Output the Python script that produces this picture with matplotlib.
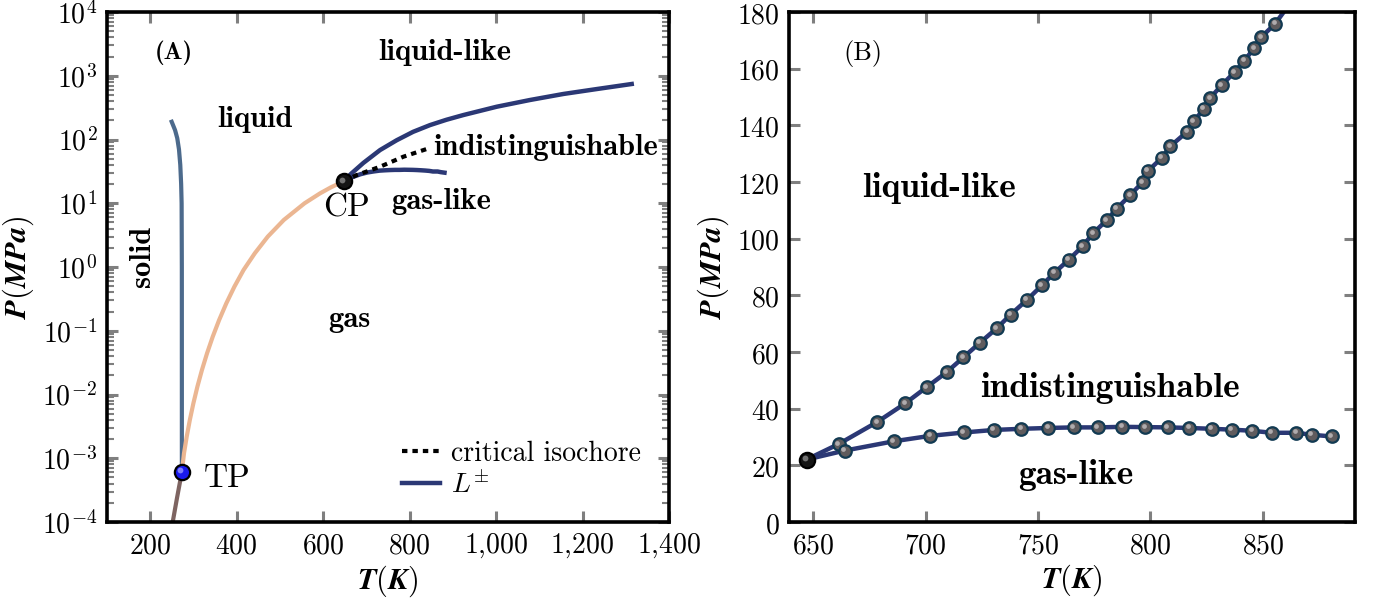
import numpy as np
import matplotlib.pyplot as plt
from matplotlib.ticker import FixedLocator, FuncFormatter, LogLocator, NullFormatter
from matplotlib.transforms import offset_copy

plt.rcParams['mathtext.fontset'] = 'cm'
plt.rcParams['axes.unicode_minus'] = False

# ---- panel A: phase diagram (T in K, P in MPa)
T_sub = [252.0, 262.0, 273.16]
P_sub = [1.0e-4, 2.4e-4, 6.1e-4]
T_melt = [273.16, 273.16, 273.1, 272.6, 271.5, 269.5, 266.5, 262.5, 257.5, 252.5, 249.6]
P_melt = [6.1e-4, 1e-2, 1.0, 10.0, 20.0, 40.0, 70.0, 105.0, 140.0, 170.0, 190.0]
T_vap = [273.16, 278.1, 284.4, 291.6, 299.8, 309.1, 319.6, 331.4, 344.6, 359.4,
         376.0, 394.7, 415.9, 441.9, 471.9, 509.0, 557.0, 592.7, 618.0, 647.1]
P_vap = [6.1e-4, 1.195e-3, 2.183e-3, 3.985e-3, 7.278e-3, 1.329e-2, 2.427e-2,
         4.431e-2, 8.091e-2, 0.1477, 0.2698, 0.4926, 0.8995, 1.643, 3.0, 5.476,
         10.0, 14.3, 17.8, 22.06]
T_LpA = [647.1, 665.0, 692.9, 731.5, 770.1, 808.0, 847.2, 885.0, 924.2, 1001.5,
         1078.5, 1155.5, 1232.8, 1313.7]
P_LpA = [22.06, 29.2, 42.9, 68.3, 97.5, 132.0, 168.5, 204.0, 242.0, 327.0,
         417.0, 518.0, 619.0, 743.0]
T_iso = [647.1, 677.6, 731.5, 785.4, 839.5]
P_iso = [22.06, 27.7, 37.4, 53.7, 71.0]
T_cp, P_cp = 647.1, 22.06
T_tp, P_tp = 273.16, 6.1e-4

# ---- panel B: L+ (upper) and L- (lower) points
T_up = [661.3, 678.5, 691.0, 700.5, 709.4, 716.8, 724.2, 731.7, 737.8, 745.1,
        751.7, 757.2, 763.6, 769.8, 774.5, 780.5, 785.0, 791.0, 796.6, 798.9,
        805.0, 808.8, 816.4, 819.3, 823.8, 826.5, 831.6, 837.4, 841.7, 846.1,
        849.2, 855.4]
P_up = [27.5, 35.3, 41.9, 47.6, 52.9, 58.1, 63.3, 68.4, 73.2, 78.4,
        83.5, 87.9, 92.5, 97.3, 101.9, 106.5, 110.6, 115.4, 120.0, 123.9,
        128.5, 132.6, 137.8, 141.5, 145.8, 149.6, 154.1, 158.8, 162.8, 167.2,
        171.1, 175.8]
T_up_end, P_up_end = 862.0, 183.0
T_lo = [664.0, 685.9, 702.0, 717.0, 730.4, 742.6, 754.5, 765.9, 776.6, 787.5,
        797.6, 807.7, 817.2, 827.3, 836.2, 845.3, 853.9, 864.8, 871.7, 880.7]
P_lo = [25.2, 28.5, 30.4, 31.6, 32.5, 32.9, 33.2, 33.4, 33.4, 33.6,
        33.5, 33.4, 33.2, 32.9, 32.6, 32.2, 31.5, 31.5, 30.8, 30.2]

navy = '#2b3875'
tickgray = '#7f7f7f'
bold = 'cmb10'
reg = 'cmr10'

fig = plt.figure(figsize=(13.86, 6.01), dpi=100)
axA = fig.add_axes([0.0772, 0.1314, 0.4055, 0.8486])
axB = fig.add_axes([0.5693, 0.1314, 0.4084, 0.8486])


def sphere(ax, x, y, ms, face, edge, shine, z=5):
    ax.plot(x, y, 'o', ms=ms, mfc=face, mec=edge, mew=1.6, zorder=z, ls='none')
    hl = offset_copy(ax.transData, fig=fig, x=-ms * 0.12, y=ms * 0.12, units='points')
    ax.plot(x, y, 'o', ms=ms * 0.38, mfc=shine, mec='none', alpha=0.8,
            transform=hl, zorder=z + 0.1, ls='none')


# ---------------- panel A
axA.plot(T_sub, P_sub, color='#7e6461', lw=3)
axA.plot(T_melt, P_melt, color='#4c6a8c', lw=3)
axA.plot(T_vap, P_vap, color='#ebb692', lw=3)
axA.plot([T_cp] + T_lo, [P_cp] + P_lo, color=navy, lw=3.2)
axA.plot(T_LpA, P_LpA, color=navy, lw=3.2, label=r'$L^{\pm}$')
axA.plot(T_iso, P_iso, color='black', lw=3, ls=(0, (1.3, 1.2)),
         label='critical isochore')
sphere(axA, T_cp, P_cp, 11, '#151515', 'black', '#8a8a8a')
sphere(axA, T_tp, P_tp, 11, '#1a1aee', 'black', '#9a9aff')

axA.set_yscale('log')
axA.set_xlim(100, 1400)
axA.set_ylim(1e-4, 1e4)
axA.xaxis.set_major_locator(FixedLocator([200, 400, 600, 800, 1000, 1200, 1400]))
axA.xaxis.set_major_formatter(FuncFormatter(
    lambda v, p: r'$%s$' % ('{:,}'.format(int(v)).replace(',', '{,}'))))
axA.yaxis.set_major_locator(LogLocator(base=10, numticks=20))
axA.yaxis.set_minor_locator(LogLocator(base=10, subs=np.arange(2, 10), numticks=20))
axA.yaxis.set_minor_formatter(NullFormatter())
axA.yaxis.set_major_formatter(FuncFormatter(lambda v, p: r'$10^{%d}$' % round(np.log10(v))))

axA.text(255, 10**3.36, '(A)', family=bold, fontsize=18, ha='center', va='center')
axA.text(882, 10**3.36, 'liquid-like', family=bold, fontsize=22, ha='center', va='center')
axA.text(442, 10**2.31, 'liquid', family=bold, fontsize=22, ha='center', va='center')
axA.text(1115, 10**1.88, 'indistinguishable', family=bold, fontsize=22, ha='center', va='center')
axA.text(873, 10**1.02, 'gas-like', family=bold, fontsize=22, ha='center', va='center')
axA.text(655, 10**0.92, 'CP', family=reg, fontsize=24, ha='center', va='center')
axA.text(183, 10**0.16, 'solid', family=bold, fontsize=22, ha='center', va='center',
         rotation=90)
axA.text(660, 10**-0.83, 'gas', family=bold, fontsize=22, ha='center', va='center')
axA.text(378, 10**-3.31, 'TP', family=reg, fontsize=24, ha='center', va='center')

h, l = axA.get_legend_handles_labels()
axA.legend(h[::-1], l[::-1], loc='upper left', frameon=False,
           prop={'family': reg, 'size': 20}, handlelength=1.35, handletextpad=0.4,
           labelspacing=0.15, bbox_to_anchor=(0.525, 0.16), borderaxespad=0,
           borderpad=0)

# ---------------- panel B
axB.plot([T_cp] + T_up + [T_up_end], [P_cp] + P_up + [P_up_end], color=navy, lw=3.2)
axB.plot([T_cp] + T_lo, [P_cp] + P_lo, color=navy, lw=3.2)
for tt, pp in [(T_up, P_up), (T_lo, P_lo)]:
    sphere(axB, tt, pp, 9, '#5f5b5d', '#123a52', '#c4c0c2', z=4)
sphere(axB, T_cp, P_cp, 11, '#151515', 'black', '#8a8a8a')

axB.set_xlim(639.3, 891)
axB.set_ylim(0, 180)
axB.xaxis.set_major_locator(FixedLocator([650, 700, 750, 800, 850]))
axB.yaxis.set_major_locator(FixedLocator(list(range(0, 181, 20))))
axB.xaxis.set_major_formatter(FuncFormatter(lambda v, p: r'$%d$' % v))
axB.yaxis.set_major_formatter(FuncFormatter(lambda v, p: r'$%d$' % v))

axB.text(672, 165.5, '(B)', family=reg, fontsize=19, ha='center', va='center')
axB.text(706, 118, 'liquid-like', family=bold, fontsize=25.5, ha='center', va='center')
axB.text(782, 47.3, 'indistinguishable', family=bold, fontsize=25.5, ha='center', va='center')
axB.text(767, 16.6, 'gas-like', family=bold, fontsize=25.5, ha='center', va='center')

for ax in (axA, axB):
    for s in ax.spines.values():
        s.set_linewidth(2.6)
    ax.tick_params(which='both', direction='in', top=True, right=True,
                   color=tickgray, labelsize=20, pad=7)
    ax.tick_params(which='major', length=8, width=2.2)
    ax.tick_params(which='minor', length=5, width=1.5)
    ax.set_xlabel(r'$\boldsymbol{T(K)}$', fontsize=22, labelpad=2)
    ax.set_ylabel(r'$\boldsymbol{P(MPa)}$', fontsize=22, labelpad=4)

fig.savefig('out.png', dpi=100)
